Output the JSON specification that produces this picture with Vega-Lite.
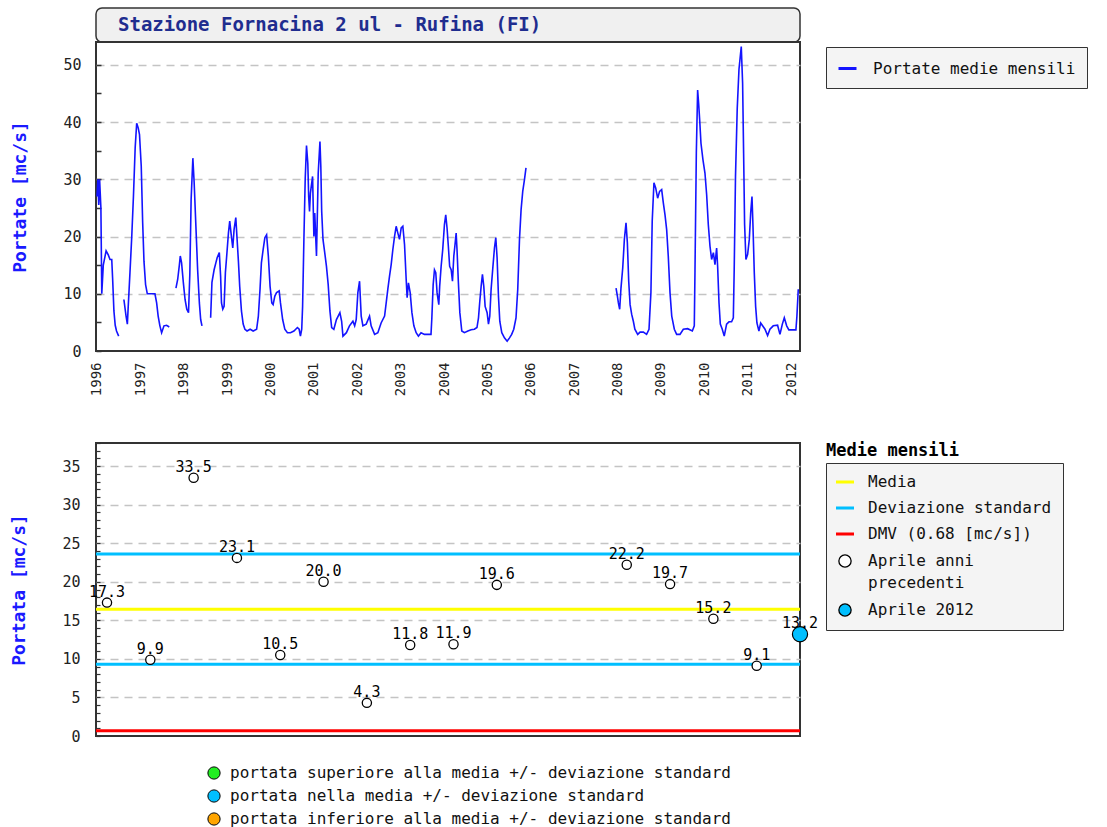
{
  "$schema": "https://vega.github.io/schema/vega-lite/v6.json",
  "padding": {"left": 9, "top": 7, "right": 0, "bottom": 0},
  "config": {
    "font": "DejaVu Sans Mono",
    "view": {"stroke": "#333333", "strokeWidth": 2},
    "axis": {"labelFont": "DejaVu Sans Mono", "titleFont": "DejaVu Sans Mono", "labelColor": "#222222"},
    "legend": {"labelFont": "DejaVu Sans Mono", "labelColor": "#111111", "labelLimit": 600},
    "title": {"font": "DejaVu Sans Mono"}
  },
  "resolve": {
    "scale": {"color": "independent", "fill": "independent", "stroke": "independent"},
    "legend": {"color": "independent", "fill": "independent", "stroke": "independent"}
  },
  "datasets": {
    "portate": [
      {"anno": 1996.00, "portata": 27, "tratto": 1}, {"anno": 1996.02, "portata": 30, "tratto": 1}, {"anno": 1996.04, "portata": 25.5, "tratto": 1}, {"anno": 1996.06, "portata": 30, "tratto": 1}, {"anno": 1996.09, "portata": 25, "tratto": 1}, {"anno": 1996.11, "portata": 10, "tratto": 1}, {"anno": 1996.145, "portata": 15, "tratto": 1}, {"anno": 1996.21, "portata": 17.5, "tratto": 1}, {"anno": 1996.26, "portata": 16.8, "tratto": 1}, {"anno": 1996.30, "portata": 16, "tratto": 1}, {"anno": 1996.34, "portata": 16, "tratto": 1}, {"anno": 1996.36, "portata": 12.7, "tratto": 1}, {"anno": 1996.39, "portata": 7, "tratto": 1}, {"anno": 1996.42, "portata": 4.5, "tratto": 1}, {"anno": 1996.45, "portata": 3.5, "tratto": 1}, {"anno": 1996.50, "portata": 2.6, "tratto": 1},
      {"anno": 1996.62, "portata": 9, "tratto": 2}, {"anno": 1996.67, "portata": 6.1, "tratto": 2}, {"anno": 1996.70, "portata": 4.7, "tratto": 2}, {"anno": 1996.72, "portata": 7.8, "tratto": 2}, {"anno": 1996.76, "portata": 13.7, "tratto": 2}, {"anno": 1996.80, "portata": 19.8, "tratto": 2}, {"anno": 1996.84, "portata": 27, "tratto": 2}, {"anno": 1996.88, "portata": 35.5, "tratto": 2}, {"anno": 1996.915, "portata": 39.8, "tratto": 2}, {"anno": 1996.95, "portata": 39, "tratto": 2}, {"anno": 1996.98, "portata": 37.8, "tratto": 2}, {"anno": 1997.02, "portata": 32.3, "tratto": 2}, {"anno": 1997.053, "portata": 22.4, "tratto": 2}, {"anno": 1997.083, "portata": 15.7, "tratto": 2}, {"anno": 1997.12, "portata": 11.6, "tratto": 2}, {"anno": 1997.16, "portata": 10, "tratto": 2}, {"anno": 1997.336, "portata": 10, "tratto": 2}, {"anno": 1997.375, "portata": 8.4, "tratto": 2}, {"anno": 1997.41, "portata": 6.1, "tratto": 2}, {"anno": 1997.45, "portata": 4.4, "tratto": 2}, {"anno": 1997.49, "portata": 3.2, "tratto": 2}, {"anno": 1997.544, "portata": 4.4, "tratto": 2}, {"anno": 1997.605, "portata": 4.5, "tratto": 2}, {"anno": 1997.666, "portata": 4.2, "tratto": 2},
      {"anno": 1997.82, "portata": 11, "tratto": 3}, {"anno": 1997.86, "portata": 12.5, "tratto": 3}, {"anno": 1997.90, "portata": 15.1, "tratto": 3}, {"anno": 1997.92, "portata": 16.6, "tratto": 3}, {"anno": 1997.95, "portata": 15.4, "tratto": 3}, {"anno": 1997.99, "portata": 12, "tratto": 3}, {"anno": 1998.03, "portata": 9, "tratto": 3}, {"anno": 1998.07, "portata": 7.3, "tratto": 3}, {"anno": 1998.11, "portata": 6.7, "tratto": 3}, {"anno": 1998.14, "portata": 13.4, "tratto": 3}, {"anno": 1998.17, "portata": 26.5, "tratto": 3}, {"anno": 1998.21, "portata": 33.7, "tratto": 3}, {"anno": 1998.24, "portata": 29.4, "tratto": 3}, {"anno": 1998.28, "portata": 21.8, "tratto": 3}, {"anno": 1998.32, "portata": 14.2, "tratto": 3}, {"anno": 1998.36, "portata": 8.4, "tratto": 3}, {"anno": 1998.39, "portata": 5.5, "tratto": 3}, {"anno": 1998.42, "portata": 4.4, "tratto": 3},
      {"anno": 1998.62, "portata": 5.8, "tratto": 4}, {"anno": 1998.65, "portata": 12, "tratto": 4}, {"anno": 1998.70, "portata": 14.2, "tratto": 4}, {"anno": 1998.74, "portata": 15.4, "tratto": 4}, {"anno": 1998.77, "portata": 16.3, "tratto": 4}, {"anno": 1998.82, "portata": 17.2, "tratto": 4}, {"anno": 1998.85, "portata": 13, "tratto": 4}, {"anno": 1998.87, "portata": 8.4, "tratto": 4}, {"anno": 1998.90, "portata": 7.3, "tratto": 4}, {"anno": 1998.93, "portata": 7.8, "tratto": 4}, {"anno": 1998.96, "portata": 13.7, "tratto": 4}, {"anno": 1998.99, "portata": 16.6, "tratto": 4}, {"anno": 1999.03, "portata": 20.6, "tratto": 4}, {"anno": 1999.06, "portata": 22.7, "tratto": 4}, {"anno": 1999.09, "portata": 20.6, "tratto": 4}, {"anno": 1999.13, "portata": 18, "tratto": 4}, {"anno": 1999.16, "portata": 21.2, "tratto": 4}, {"anno": 1999.20, "portata": 23.3, "tratto": 4}, {"anno": 1999.23, "portata": 19.5, "tratto": 4}, {"anno": 1999.26, "portata": 15.7, "tratto": 4}, {"anno": 1999.29, "portata": 11.3, "tratto": 4}, {"anno": 1999.33, "portata": 7, "tratto": 4}, {"anno": 1999.37, "portata": 4.7, "tratto": 4}, {"anno": 1999.41, "portata": 3.8, "tratto": 4}, {"anno": 1999.46, "portata": 3.5, "tratto": 4}, {"anno": 1999.53, "portata": 3.8, "tratto": 4}, {"anno": 1999.60, "portata": 3.5, "tratto": 4}, {"anno": 1999.68, "portata": 3.8, "tratto": 4}, {"anno": 1999.72, "portata": 6.1, "tratto": 4}, {"anno": 1999.76, "portata": 11, "tratto": 4}, {"anno": 1999.79, "portata": 15.4, "tratto": 4}, {"anno": 1999.83, "portata": 17.7, "tratto": 4}, {"anno": 1999.87, "portata": 19.8, "tratto": 4}, {"anno": 1999.91, "portata": 20.3, "tratto": 4}, {"anno": 1999.95, "portata": 16.6, "tratto": 4}, {"anno": 1999.99, "portata": 11.3, "tratto": 4}, {"anno": 2000.03, "portata": 8.4, "tratto": 4}, {"anno": 2000.06, "portata": 8.1, "tratto": 4}, {"anno": 2000.10, "portata": 9.6, "tratto": 4}, {"anno": 2000.14, "portata": 10.2, "tratto": 4}, {"anno": 2000.20, "portata": 10.5, "tratto": 4}, {"anno": 2000.23, "portata": 8.4, "tratto": 4}, {"anno": 2000.28, "portata": 5.5, "tratto": 4}, {"anno": 2000.33, "portata": 3.8, "tratto": 4}, {"anno": 2000.39, "portata": 3.2, "tratto": 4}, {"anno": 2000.46, "portata": 3.2, "tratto": 4}, {"anno": 2000.54, "portata": 3.5, "tratto": 4}, {"anno": 2000.62, "portata": 4.1, "tratto": 4}, {"anno": 2000.66, "portata": 3.8, "tratto": 4}, {"anno": 2000.69, "portata": 2.6, "tratto": 4}, {"anno": 2000.72, "portata": 3.8, "tratto": 4}, {"anno": 2000.74, "portata": 7.8, "tratto": 4}, {"anno": 2000.77, "portata": 19.5, "tratto": 4}, {"anno": 2000.80, "portata": 30, "tratto": 4}, {"anno": 2000.83, "portata": 35.9, "tratto": 4}, {"anno": 2000.86, "portata": 32.8, "tratto": 4}, {"anno": 2000.88, "portata": 27, "tratto": 4}, {"anno": 2000.90, "portata": 24.4, "tratto": 4}, {"anno": 2000.92, "portata": 27.6, "tratto": 4}, {"anno": 2000.97, "portata": 30.5, "tratto": 4}, {"anno": 2001.00, "portata": 20, "tratto": 4}, {"anno": 2001.02, "portata": 24.1, "tratto": 4}, {"anno": 2001.06, "portata": 16.6, "tratto": 4}, {"anno": 2001.10, "portata": 31.1, "tratto": 4}, {"anno": 2001.14, "portata": 36.6, "tratto": 4}, {"anno": 2001.16, "portata": 32.3, "tratto": 4}, {"anno": 2001.18, "portata": 24.4, "tratto": 4}, {"anno": 2001.21, "portata": 19.5, "tratto": 4}, {"anno": 2001.25, "portata": 17.2, "tratto": 4}, {"anno": 2001.29, "portata": 14.8, "tratto": 4}, {"anno": 2001.33, "portata": 11.6, "tratto": 4}, {"anno": 2001.37, "portata": 7, "tratto": 4}, {"anno": 2001.41, "portata": 4.1, "tratto": 4}, {"anno": 2001.46, "portata": 3.8, "tratto": 4}, {"anno": 2001.52, "portata": 5.5, "tratto": 4}, {"anno": 2001.60, "portata": 6.7, "tratto": 4}, {"anno": 2001.64, "portata": 5.2, "tratto": 4}, {"anno": 2001.67, "portata": 2.6, "tratto": 4}, {"anno": 2001.75, "portata": 3.2, "tratto": 4}, {"anno": 2001.82, "portata": 4.4, "tratto": 4}, {"anno": 2001.90, "portata": 5.2, "tratto": 4}, {"anno": 2001.94, "portata": 4.4, "tratto": 4}, {"anno": 2001.976, "portata": 5.5, "tratto": 4}, {"anno": 2002.014, "portata": 10.2, "tratto": 4}, {"anno": 2002.053, "portata": 12.2, "tratto": 4}, {"anno": 2002.091, "portata": 6.1, "tratto": 4}, {"anno": 2002.13, "portata": 4.4, "tratto": 4}, {"anno": 2002.206, "portata": 4.7, "tratto": 4}, {"anno": 2002.283, "portata": 6.1, "tratto": 4}, {"anno": 2002.32, "portata": 4.4, "tratto": 4}, {"anno": 2002.40, "portata": 2.9, "tratto": 4}, {"anno": 2002.475, "portata": 3.2, "tratto": 4}, {"anno": 2002.55, "portata": 4.9, "tratto": 4}, {"anno": 2002.63, "portata": 6.1, "tratto": 4}, {"anno": 2002.667, "portata": 8.4, "tratto": 4}, {"anno": 2002.705, "portata": 10.8, "tratto": 4}, {"anno": 2002.744, "portata": 13.1, "tratto": 4}, {"anno": 2002.782, "portata": 15.1, "tratto": 4}, {"anno": 2002.82, "portata": 17.7, "tratto": 4}, {"anno": 2002.859, "portata": 20, "tratto": 4}, {"anno": 2002.897, "portata": 21.8, "tratto": 4}, {"anno": 2002.936, "portata": 20.6, "tratto": 4}, {"anno": 2002.974, "portata": 19.5, "tratto": 4}, {"anno": 2003.013, "portata": 21.5, "tratto": 4}, {"anno": 2003.051, "portata": 21.8, "tratto": 4}, {"anno": 2003.09, "portata": 18.6, "tratto": 4}, {"anno": 2003.128, "portata": 12.5, "tratto": 4}, {"anno": 2003.15, "portata": 9.3, "tratto": 4}, {"anno": 2003.18, "portata": 11.9, "tratto": 4}, {"anno": 2003.22, "portata": 10.2, "tratto": 4}, {"anno": 2003.26, "portata": 6.7, "tratto": 4}, {"anno": 2003.305, "portata": 4.4, "tratto": 4}, {"anno": 2003.358, "portata": 3.2, "tratto": 4}, {"anno": 2003.41, "portata": 2.6, "tratto": 4}, {"anno": 2003.47, "portata": 3.2, "tratto": 4}, {"anno": 2003.55, "portata": 2.9, "tratto": 4}, {"anno": 2003.70, "portata": 2.9, "tratto": 4}, {"anno": 2003.72, "portata": 5.8, "tratto": 4}, {"anno": 2003.75, "portata": 11.6, "tratto": 4}, {"anno": 2003.78, "portata": 14.2, "tratto": 4}, {"anno": 2003.81, "portata": 13.7, "tratto": 4}, {"anno": 2003.84, "portata": 10.2, "tratto": 4}, {"anno": 2003.88, "portata": 8.1, "tratto": 4}, {"anno": 2003.90, "portata": 11.3, "tratto": 4}, {"anno": 2003.934, "portata": 14.8, "tratto": 4}, {"anno": 2003.97, "portata": 17.7, "tratto": 4}, {"anno": 2004.01, "portata": 22.1, "tratto": 4}, {"anno": 2004.04, "portata": 23.8, "tratto": 4}, {"anno": 2004.07, "portata": 21.5, "tratto": 4}, {"anno": 2004.10, "portata": 18.3, "tratto": 4}, {"anno": 2004.13, "portata": 14.8, "tratto": 4}, {"anno": 2004.165, "portata": 14.2, "tratto": 4}, {"anno": 2004.195, "portata": 12.2, "tratto": 4}, {"anno": 2004.226, "portata": 16.6, "tratto": 4}, {"anno": 2004.25, "portata": 18.3, "tratto": 4}, {"anno": 2004.28, "portata": 20.6, "tratto": 4}, {"anno": 2004.30, "portata": 17.7, "tratto": 4}, {"anno": 2004.33, "portata": 12.2, "tratto": 4}, {"anno": 2004.365, "portata": 6.7, "tratto": 4}, {"anno": 2004.41, "portata": 3.5, "tratto": 4}, {"anno": 2004.47, "portata": 3.2, "tratto": 4}, {"anno": 2004.55, "portata": 3.5, "tratto": 4}, {"anno": 2004.625, "portata": 3.7, "tratto": 4}, {"anno": 2004.70, "portata": 3.8, "tratto": 4}, {"anno": 2004.76, "portata": 4.1, "tratto": 4}, {"anno": 2004.795, "portata": 5.8, "tratto": 4}, {"anno": 2004.825, "portata": 8.7, "tratto": 4}, {"anno": 2004.856, "portata": 11.3, "tratto": 4}, {"anno": 2004.886, "portata": 13.4, "tratto": 4}, {"anno": 2004.917, "portata": 11.3, "tratto": 4}, {"anno": 2004.948, "portata": 7.8, "tratto": 4}, {"anno": 2004.994, "portata": 6.7, "tratto": 4}, {"anno": 2005.025, "portata": 4.7, "tratto": 4}, {"anno": 2005.055, "portata": 6.1, "tratto": 4}, {"anno": 2005.086, "portata": 10.8, "tratto": 4}, {"anno": 2005.125, "portata": 14.5, "tratto": 4}, {"anno": 2005.163, "portata": 18, "tratto": 4}, {"anno": 2005.194, "portata": 19.8, "tratto": 4}, {"anno": 2005.224, "portata": 16.3, "tratto": 4}, {"anno": 2005.255, "portata": 9.6, "tratto": 4}, {"anno": 2005.286, "portata": 5.2, "tratto": 4}, {"anno": 2005.332, "portata": 3.2, "tratto": 4}, {"anno": 2005.393, "portata": 2.3, "tratto": 4}, {"anno": 2005.455, "portata": 1.7, "tratto": 4}, {"anno": 2005.51, "portata": 2.3, "tratto": 4}, {"anno": 2005.56, "portata": 2.9, "tratto": 4}, {"anno": 2005.608, "portata": 3.8, "tratto": 4}, {"anno": 2005.66, "portata": 5.8, "tratto": 4}, {"anno": 2005.70, "portata": 10.8, "tratto": 4}, {"anno": 2005.74, "portata": 19.5, "tratto": 4}, {"anno": 2005.777, "portata": 24.7, "tratto": 4}, {"anno": 2005.815, "portata": 27.9, "tratto": 4}, {"anno": 2005.854, "portata": 29.9, "tratto": 4}, {"anno": 2005.89, "portata": 32, "tratto": 4},
      {"anno": 2007.966, "portata": 11, "tratto": 5}, {"anno": 2007.997, "portata": 9.6, "tratto": 5}, {"anno": 2008.02, "portata": 8.4, "tratto": 5}, {"anno": 2008.05, "portata": 7.3, "tratto": 5}, {"anno": 2008.08, "portata": 11, "tratto": 5}, {"anno": 2008.12, "portata": 14.5, "tratto": 5}, {"anno": 2008.158, "portata": 19.5, "tratto": 5}, {"anno": 2008.196, "portata": 22.4, "tratto": 5}, {"anno": 2008.227, "portata": 18.9, "tratto": 5}, {"anno": 2008.258, "portata": 12.2, "tratto": 5}, {"anno": 2008.29, "portata": 8.1, "tratto": 5}, {"anno": 2008.327, "portata": 6.4, "tratto": 5}, {"anno": 2008.365, "portata": 5.2, "tratto": 5}, {"anno": 2008.40, "portata": 3.8, "tratto": 5}, {"anno": 2008.465, "portata": 2.9, "tratto": 5}, {"anno": 2008.52, "portata": 3.3, "tratto": 5}, {"anno": 2008.596, "portata": 3.3, "tratto": 5}, {"anno": 2008.67, "portata": 2.9, "tratto": 5}, {"anno": 2008.726, "portata": 3.8, "tratto": 5}, {"anno": 2008.77, "portata": 10.2, "tratto": 5}, {"anno": 2008.80, "portata": 22.7, "tratto": 5}, {"anno": 2008.84, "portata": 29.4, "tratto": 5}, {"anno": 2008.88, "portata": 28.5, "tratto": 5}, {"anno": 2008.925, "portata": 26.7, "tratto": 5}, {"anno": 2008.97, "portata": 27.9, "tratto": 5}, {"anno": 2009.018, "portata": 28.2, "tratto": 5}, {"anno": 2009.056, "portata": 25.9, "tratto": 5}, {"anno": 2009.095, "portata": 23.8, "tratto": 5}, {"anno": 2009.133, "portata": 21.2, "tratto": 5}, {"anno": 2009.17, "portata": 16.6, "tratto": 5}, {"anno": 2009.21, "portata": 10.2, "tratto": 5}, {"anno": 2009.25, "portata": 6.1, "tratto": 5}, {"anno": 2009.31, "portata": 3.8, "tratto": 5}, {"anno": 2009.363, "portata": 2.9, "tratto": 5}, {"anno": 2009.44, "portata": 2.9, "tratto": 5}, {"anno": 2009.517, "portata": 3.8, "tratto": 5}, {"anno": 2009.617, "portata": 3.9, "tratto": 5}, {"anno": 2009.725, "portata": 3.5, "tratto": 5}, {"anno": 2009.77, "portata": 4.4, "tratto": 5}, {"anno": 2009.786, "portata": 14, "tratto": 5}, {"anno": 2009.817, "portata": 34.6, "tratto": 5}, {"anno": 2009.847, "portata": 45.6, "tratto": 5}, {"anno": 2009.87, "portata": 43.3, "tratto": 5}, {"anno": 2009.894, "portata": 40.4, "tratto": 5}, {"anno": 2009.924, "portata": 36.3, "tratto": 5}, {"anno": 2009.97, "portata": 33.4, "tratto": 5}, {"anno": 2010.016, "portata": 31.1, "tratto": 5}, {"anno": 2010.055, "portata": 27.3, "tratto": 5}, {"anno": 2010.093, "portata": 22.1, "tratto": 5}, {"anno": 2010.132, "portata": 18.3, "tratto": 5}, {"anno": 2010.17, "portata": 16, "tratto": 5}, {"anno": 2010.21, "portata": 17.2, "tratto": 5}, {"anno": 2010.247, "portata": 15.1, "tratto": 5}, {"anno": 2010.285, "portata": 18, "tratto": 5}, {"anno": 2010.308, "portata": 14.8, "tratto": 5}, {"anno": 2010.34, "portata": 8.4, "tratto": 5}, {"anno": 2010.37, "portata": 4.7, "tratto": 5}, {"anno": 2010.415, "portata": 3.8, "tratto": 5}, {"anno": 2010.46, "portata": 2.6, "tratto": 5}, {"anno": 2010.515, "portata": 4.7, "tratto": 5}, {"anno": 2010.57, "portata": 5.1, "tratto": 5}, {"anno": 2010.63, "portata": 5.1, "tratto": 5}, {"anno": 2010.67, "portata": 5.8, "tratto": 5}, {"anno": 2010.69, "portata": 14.2, "tratto": 5}, {"anno": 2010.72, "portata": 30.5, "tratto": 5}, {"anno": 2010.76, "portata": 42.4, "tratto": 5}, {"anno": 2010.80, "portata": 49.2, "tratto": 5}, {"anno": 2010.853, "portata": 53.2, "tratto": 5}, {"anno": 2010.884, "portata": 46.8, "tratto": 5}, {"anno": 2010.907, "portata": 34.6, "tratto": 5}, {"anno": 2010.93, "portata": 22.1, "tratto": 5}, {"anno": 2010.96, "portata": 16, "tratto": 5}, {"anno": 2011.00, "portata": 16.9, "tratto": 5}, {"anno": 2011.038, "portata": 19.5, "tratto": 5}, {"anno": 2011.07, "portata": 24.1, "tratto": 5}, {"anno": 2011.10, "portata": 27, "tratto": 5}, {"anno": 2011.122, "portata": 22.1, "tratto": 5}, {"anno": 2011.153, "portata": 13.7, "tratto": 5}, {"anno": 2011.184, "portata": 7.8, "tratto": 5}, {"anno": 2011.214, "portata": 4.9, "tratto": 5}, {"anno": 2011.26, "portata": 3.5, "tratto": 5}, {"anno": 2011.30, "portata": 4.9, "tratto": 5}, {"anno": 2011.345, "portata": 4.4, "tratto": 5}, {"anno": 2011.40, "portata": 3.8, "tratto": 5}, {"anno": 2011.46, "portata": 2.7, "tratto": 5}, {"anno": 2011.514, "portata": 3.8, "tratto": 5}, {"anno": 2011.59, "portata": 4.4, "tratto": 5}, {"anno": 2011.69, "portata": 4.5, "tratto": 5}, {"anno": 2011.745, "portata": 2.9, "tratto": 5}, {"anno": 2011.80, "portata": 4.7, "tratto": 5}, {"anno": 2011.845, "portata": 5.8, "tratto": 5}, {"anno": 2011.90, "portata": 4.4, "tratto": 5}, {"anno": 2011.95, "portata": 3.7, "tratto": 5}, {"anno": 2012.05, "portata": 3.7, "tratto": 5}, {"anno": 2012.113, "portata": 3.7, "tratto": 5}, {"anno": 2012.136, "portata": 6.1, "tratto": 5}, {"anno": 2012.167, "portata": 10.8, "tratto": 5}
    ],
    "aprile": [
      {"anno": 1996, "portata": 17.3, "classe": null}, {"anno": 1997, "portata": 9.9, "classe": null}, {"anno": 1998, "portata": 33.5, "classe": null}, {"anno": 1999, "portata": 23.1, "classe": null}, {"anno": 2000, "portata": 10.5, "classe": null}, {"anno": 2001, "portata": 20.0, "classe": null}, {"anno": 2002, "portata": 4.3, "classe": null}, {"anno": 2003, "portata": 11.8, "classe": null}, {"anno": 2004, "portata": 11.9, "classe": null}, {"anno": 2005, "portata": 19.6, "classe": null}, {"anno": 2008, "portata": 22.2, "classe": null}, {"anno": 2009, "portata": 19.7, "classe": null}, {"anno": 2010, "portata": 15.2, "classe": null}, {"anno": 2011, "portata": 9.1, "classe": null}, {"anno": 2012, "portata": 13.2, "classe": "portata nella media +/- deviazione standard"}
    ],
    "riferimenti": [
      {"serie": "Media", "valore": 16.45}, {"serie": "Deviazione standard", "valore": 23.6}, {"serie": "Deviazione standard", "valore": 9.3}, {"serie": "DMV (0.68 [mc/s])", "valore": 0.68}
    ]
  },
  "vconcat": [
    {
      "bounds": "flush",
      "spacing": 0,
      "resolve": {
        "scale": {"stroke": "independent"},
        "legend": {"stroke": "independent"}
      },
      "vconcat": [
        {
          "width": 704,
          "height": 34,
          "view": {"fill": "#f0f0f0", "stroke": "#333333", "strokeWidth": 1.5, "cornerRadius": 6},
          "data": {"values": [{"titolo": "Stazione Fornacina 2 ul - Rufina (FI)"}]},
          "mark": {"type": "text", "align": "left", "baseline": "middle", "dx": -330, "font": "DejaVu Sans Mono", "fontSize": 19, "fontWeight": "bold", "color": "#1f2d8f"},
          "encoding": {"text": {"field": "titolo", "type": "nominal"}}
        },
        {
          "width": 704,
          "height": 309,
          "data": {"name": "portate"},
          "mark": {"type": "line", "strokeWidth": 1.6, "clip": true},
          "encoding": {
            "x": {"field": "anno", "type": "quantitative", "scale": {"domain": [1995.977, 2012.207], "nice": false, "zero": false},
              "axis": {"values": [1996, 1997, 1998, 1999, 2000, 2001, 2002, 2003, 2004, 2005, 2006, 2007, 2008, 2009, 2010, 2011, 2012], "format": "d", "labelAngle": 270, "labelAlign": "right", "labelBaseline": "middle", "labelFlush": false, "labelOverlap": false, "ticks": false, "domain": false, "grid": false, "labelPadding": 11, "labelFontSize": 14, "title": null}},
            "y": {"field": "portata", "type": "quantitative", "scale": {"domain": [0, 54], "nice": false},
              "axis": {"values": [0, 5, 10, 15, 20, 25, 30, 35, 40, 45, 50], "labelExpr": "datum.value % 10 === 0 ? datum.label : ''", "labelOverlap": false, "grid": true, "gridDash": [8, 6], "gridColor": "#c4c4c4", "gridWidth": 1.5, "gridOpacity": {"condition": {"test": "datum.value % 10 !== 0 || datum.value === 0", "value": 0}, "value": 1}, "ticks": true, "tickSize": -5, "tickColor": "#333333", "tickWidth": 1.5, "domain": false, "labelPadding": 20, "labelFontSize": 15, "title": "Portate [mc/s]", "titleColor": "#1a1aff", "titleFontSize": 18, "titleFontWeight": "bold", "titlePadding": 33}},
            "detail": {"field": "tratto", "type": "nominal"},
            "stroke": {"datum": "Portate medie mensili", "type": "nominal", "scale": {"range": ["#1414ff"]},
              "legend": {"orient": "none", "legendX": 730, "legendY": 5, "title": null, "fillColor": "#f4f4f4", "strokeColor": "#333333", "padding": 11, "labelFontSize": 16, "labelOffset": 15, "labelLimit": 600, "symbolType": "stroke", "symbolSize": 324, "symbolStrokeWidth": 3}}
          }
        }
      ]
    },
    {
      "width": 704,
      "height": 293,
      "title": {"text": "Medie mensili", "anchor": "start", "frame": "group", "dx": 730, "offset": -24, "fontSize": 17, "fontWeight": "bold", "color": "#000000"},
      "resolve": {
        "scale": {"color": "independent", "fill": "independent"},
        "legend": {"color": "independent", "fill": "independent"}
      },
      "encoding": {
        "y": {"field": "valore", "type": "quantitative", "scale": {"domain": [0, 38], "nice": false},
          "axis": {"values": [0, 1, 2, 3, 4, 5, 6, 7, 8, 9, 10, 11, 12, 13, 14, 15, 16, 17, 18, 19, 20, 21, 22, 23, 24, 25, 26, 27, 28, 29, 30, 31, 32, 33, 34, 35, 36, 37, 38], "labelExpr": "datum.value % 5 === 0 ? datum.label : ''", "labelOverlap": false, "grid": true, "gridDash": [8, 6], "gridColor": "#c4c4c4", "gridWidth": 1.5, "gridOpacity": {"condition": {"test": "datum.value % 5 !== 0 || datum.value === 0", "value": 0}, "value": 1}, "ticks": true, "tickSize": -4, "tickColor": "#333333", "tickWidth": 1.2, "domain": false, "labelPadding": 20, "labelFontSize": 15, "title": "Portata [mc/s]", "titleColor": "#1a1aff", "titleFontSize": 18, "titleFontWeight": "bold", "titlePadding": 33}}
      },
      "layer": [
        {
          "data": {"name": "riferimenti"},
          "mark": {"type": "rule", "strokeWidth": 3},
          "encoding": {
            "color": {"field": "serie", "type": "nominal",
              "scale": {"domain": ["Media", "Deviazione standard", "DMV (0.68 [mc/s])", "Aprile anni precedenti", "Aprile 2012"], "range": ["#ffff00", "#00bfff", "#ff0000", "#000000", "#000000"]},
              "legend": {"orient": "none", "legendX": 730, "legendY": 20, "title": null, "fillColor": "#f4f4f4", "strokeColor": "#333333", "padding": 11, "labelFontSize": 16, "labelOffset": 15, "labelLimit": 600, "rowPadding": 10, "symbolType": "stroke", "symbolSize": 324, "symbolStrokeWidth": 3,
                "labelExpr": "datum.value == 'Aprile anni precedenti' ? ['Aprile anni', 'precedenti'] : datum.label",
                "encode": {
                  "symbols": {"update": {
                    "shape": {"signal": "indexof(['Aprile anni precedenti', 'Aprile 2012'], datum.value) >= 0 ? 'circle' : 'stroke'"},
                    "size": {"signal": "indexof(['Aprile anni precedenti', 'Aprile 2012'], datum.value) >= 0 ? 150 : 324"},
                    "fill": {"signal": "datum.value == 'Aprile 2012' ? '#00bfff' : datum.value == 'Aprile anni precedenti' ? '#ffffff' : 'transparent'"},
                    "stroke": {"signal": "datum.value == 'Media' ? '#ffff00' : datum.value == 'Deviazione standard' ? '#00bfff' : datum.value == 'DMV (0.68 [mc/s])' ? '#ff0000' : '#000000'"},
                    "strokeWidth": {"signal": "indexof(['Aprile anni precedenti', 'Aprile 2012'], datum.value) >= 0 ? 1.3 : 3"},
                    "opacity": {"value": 1}
                  }},
                  "labels": {"update": {"lineHeight": {"value": 22}}}
                }
              }}
          }
        },
        {
          "data": {"name": "aprile"},
          "transform": [{"filter": "datum.anno < 2012"}],
          "mark": {"type": "point", "shape": "circle", "filled": true, "fill": "#ffffff", "stroke": "#000000", "strokeWidth": 1.3, "size": 85, "opacity": 1},
          "encoding": {
            "x": {"field": "anno", "type": "quantitative", "scale": {"domain": [1995.746, 2012], "nice": false, "zero": false}, "axis": null},
            "y": {"field": "portata", "type": "quantitative"}
          }
        },
        {
          "data": {"name": "aprile"},
          "transform": [{"filter": "datum.anno == 2012"}],
          "mark": {"type": "point", "shape": "circle", "filled": true, "stroke": "#000000", "strokeWidth": 1.2, "size": 230, "opacity": 1},
          "encoding": {
            "x": {"field": "anno", "type": "quantitative"},
            "y": {"field": "portata", "type": "quantitative"},
            "fill": {"field": "classe", "type": "nominal",
              "scale": {"domain": ["portata superiore alla media +/- deviazione standard", "portata nella media +/- deviazione standard", "portata inferiore alla media +/- deviazione standard"], "range": ["#22ee22", "#00bfff", "#ffa500"]},
              "legend": {"orient": "none", "legendX": 110, "legendY": 322, "title": null, "direction": "vertical", "padding": 0, "labelLimit": 800, "symbolType": "circle", "symbolSize": 150, "symbolStrokeColor": "#000000", "symbolStrokeWidth": 1, "labelFontSize": 16, "labelOffset": 8, "rowPadding": 5}}
          }
        },
        {
          "data": {"name": "aprile"},
          "mark": {"type": "text", "baseline": "alphabetic", "align": "center", "dy": -6, "fontSize": 15, "font": "DejaVu Sans Mono", "color": "#000000"},
          "encoding": {
            "x": {"field": "anno", "type": "quantitative"},
            "y": {"field": "portata", "type": "quantitative"},
            "text": {"field": "portata", "type": "quantitative", "format": ".1f"}
          }
        }
      ]
    }
  ],
  "spacing": 38,
  "bounds": "full"
}
